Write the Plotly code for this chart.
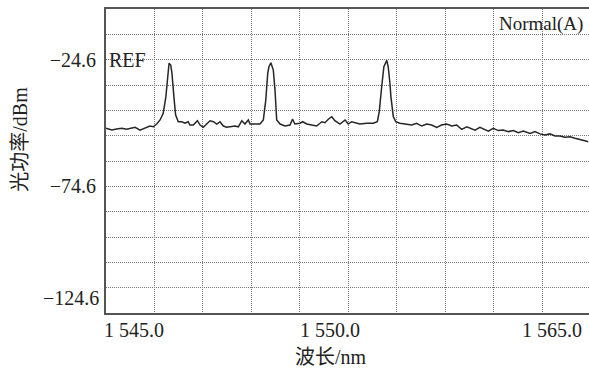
import plotly.graph_objects as go

# Wavelength (nm) and optical power (dBm)
wavelength = [
    1545.00, 1545.24, 1545.44, 1545.65, 1545.85, 1546.06, 1546.20, 1546.40, 1546.61, 1546.81,
    1546.95, 1547.09, 1547.23, 1547.36, 1547.47, 1547.54, 1547.60, 1547.67, 1547.72, 1547.80,
    1547.87, 1547.98, 1548.12, 1548.26, 1548.39, 1548.46, 1548.60, 1548.77, 1548.88, 1549.01,
    1549.29, 1549.43, 1549.57, 1549.70, 1549.84, 1549.98, 1550.18, 1550.32, 1550.46, 1550.60,
    1550.73, 1550.87, 1550.94, 1551.14, 1551.35, 1551.49, 1551.59, 1551.67, 1551.72, 1551.80,
    1551.90, 1551.97, 1552.04, 1552.18, 1552.38, 1552.59, 1552.69, 1552.79, 1553.00, 1553.11,
    1553.28, 1553.48, 1553.69, 1553.90, 1554.03, 1554.17, 1554.31, 1554.44, 1554.65, 1554.86,
    1554.99, 1555.13, 1555.27, 1555.47, 1555.75, 1556.02, 1556.19, 1556.27, 1556.37, 1556.46,
    1556.58, 1556.64, 1556.71, 1556.75, 1556.85, 1556.95, 1557.12, 1557.33, 1557.61, 1557.81,
    1558.02, 1558.23, 1558.43, 1558.64, 1558.84, 1559.05, 1559.26, 1559.46, 1559.67, 1559.88,
    1560.08, 1560.22, 1560.42, 1560.63, 1560.77, 1560.97, 1561.18, 1561.38, 1561.59, 1561.80,
    1562.00, 1562.21, 1562.49, 1562.69, 1562.90, 1563.10, 1563.31, 1563.52, 1563.72, 1563.93,
    1564.14, 1564.34, 1564.55, 1564.75, 1564.89,
]
power_dbm = [
    -51.7, -52.4, -52.0, -51.7, -52.1, -51.7, -51.3, -52.4, -51.7, -50.8,
    -51.1, -50.0, -48.4, -45.8, -39.2, -30.0, -26.0, -26.7, -30.0, -39.2,
    -46.4, -49.1, -49.1, -49.7, -49.1, -50.4, -50.4, -48.7, -50.4, -51.3,
    -48.7, -49.1, -50.0, -49.1, -50.8, -51.3, -51.1, -50.8, -51.1, -48.7,
    -50.0, -48.4, -50.0, -50.0, -50.0, -48.4, -40.5, -30.0, -27.4, -25.8,
    -28.7, -36.6, -48.4, -50.0, -50.8, -50.4, -48.1, -50.0, -49.7, -49.1,
    -50.0, -50.4, -50.8, -49.1, -49.5, -48.1, -47.1, -48.7, -50.0, -48.4,
    -50.0, -49.1, -49.5, -50.0, -49.7, -49.7, -49.1, -45.1, -35.3, -27.4,
    -24.9, -27.4, -33.9, -39.2, -47.1, -49.1, -49.7, -50.0, -50.4, -49.7,
    -50.8, -50.0, -50.4, -51.3, -50.4, -50.0, -50.8, -50.4, -52.1, -51.1,
    -51.7, -52.4, -51.3, -52.1, -52.8, -51.7, -52.6, -52.4, -53.0, -52.6,
    -53.4, -52.8, -53.7, -53.0, -53.9, -54.3, -53.9, -54.7, -54.7, -55.2,
    -55.0, -55.6, -56.0, -56.6, -57.0,
]

# Axis ticks / labels
y_grid_vals = [-4.6 - 10 * i for i in range(13)]
y_tick_text = ["", "", "\u221224.6", "", "", "", "", "\u221274.6", "", "", "", "", ""]
y_bottom_label = "\u2212124.6"
y_bottom_value = -124.6
x_grid_vals = [1545 + 2 * i for i in range(11)]
x_label_text = ["1 545.0", "1 550.0", "1 565.0"]

SERIF = "Liberation Serif, Times New Roman, Noto Sans CJK SC, serif"
TXT = "#222222"

fig = go.Figure()
fig.add_trace(go.Scatter(
    x=wavelength, y=power_dbm, mode="lines",
    line=dict(color="#262626", width=1.5), showlegend=False, hoverinfo="skip",
))

grid_common = dict(showgrid=True, gridcolor="#777777", gridwidth=1, griddash="1px,1px",
                   zeroline=False)

fig.update_layout(
    width=589, height=369,
    margin=dict(l=106, r=0, t=9, b=56),
    paper_bgcolor="white", plot_bgcolor="white",
    font=dict(family=SERIF, size=20, color=TXT),
    xaxis=dict(range=[1545, 1564.92], tickvals=x_grid_vals, showticklabels=False,
               ticks="", showline=True, linecolor="#555555", linewidth=2, mirror=True,
               **grid_common),
    yaxis=dict(range=[-124.6, -4.6], tickvals=y_grid_vals, ticktext=y_tick_text,
               ticks="", ticklabelstandoff=4, showline=True, linecolor="#555555",
               linewidth=2, tickfont=dict(family=SERIF, size=20, color=TXT),
               **grid_common),
)

anns = []
# x labels: start (left-aligned), middle, stop (right-aligned at the right edge)
anns.append(dict(x=1545, xref="x", y=0, yref="paper", yanchor="top", yshift=-4,
                 xanchor="left", xshift=-4, text=x_label_text[0], showarrow=False,
                 font=dict(family=SERIF, size=20, color=TXT)))
anns.append(dict(x=1553, xref="x", y=0, yref="paper", yanchor="top", yshift=-4,
                 xanchor="left", xshift=-2, text=x_label_text[1], showarrow=False,
                 font=dict(family=SERIF, size=20, color=TXT)))
anns.append(dict(x=1, xref="paper", y=0, yref="paper", yanchor="top", yshift=-4,
                 xanchor="right", xshift=-5, text=x_label_text[2], showarrow=False,
                 font=dict(family=SERIF, size=20, color=TXT)))
anns.append(dict(x=0, xref="paper", xanchor="right", xshift=-5, y=y_bottom_value, yref="y",
                 yshift=15, text=y_bottom_label, showarrow=False,
                 font=dict(family=SERIF, size=20, color=TXT)))
anns.append(dict(x=0, xref="paper", xanchor="left", xshift=1, y=-24.6, yref="y",
                 text="REF", showarrow=False,
                 font=dict(family=SERIF, size=20, color=TXT)))
anns.append(dict(x=1, xref="paper", xanchor="right", xshift=-4, y=1, yref="paper",
                 yanchor="top", yshift=-2, text="Normal(A)", showarrow=False,
                 font=dict(family=SERIF, size=19, color=TXT)))
anns.append(dict(x=0.465, xref="paper", xanchor="center", y=0, yref="paper",
                 yanchor="top", yshift=-31, text="波长/nm", showarrow=False,
                 font=dict(family=SERIF, size=20, color=TXT)))
anns.append(dict(x=0, xref="paper", xanchor="center", xshift=-86, y=0.57, yref="paper",
                 yanchor="middle", textangle=-90, text="光功率/dBm", showarrow=False,
                 font=dict(family=SERIF, size=20, color=TXT)))
fig.update_layout(annotations=anns)

fig.write_html(
    "out.html",
    config={"displayModeBar": False},
    post_script="document.body.style.margin='0';document.body.style.overflow='hidden';",
)
